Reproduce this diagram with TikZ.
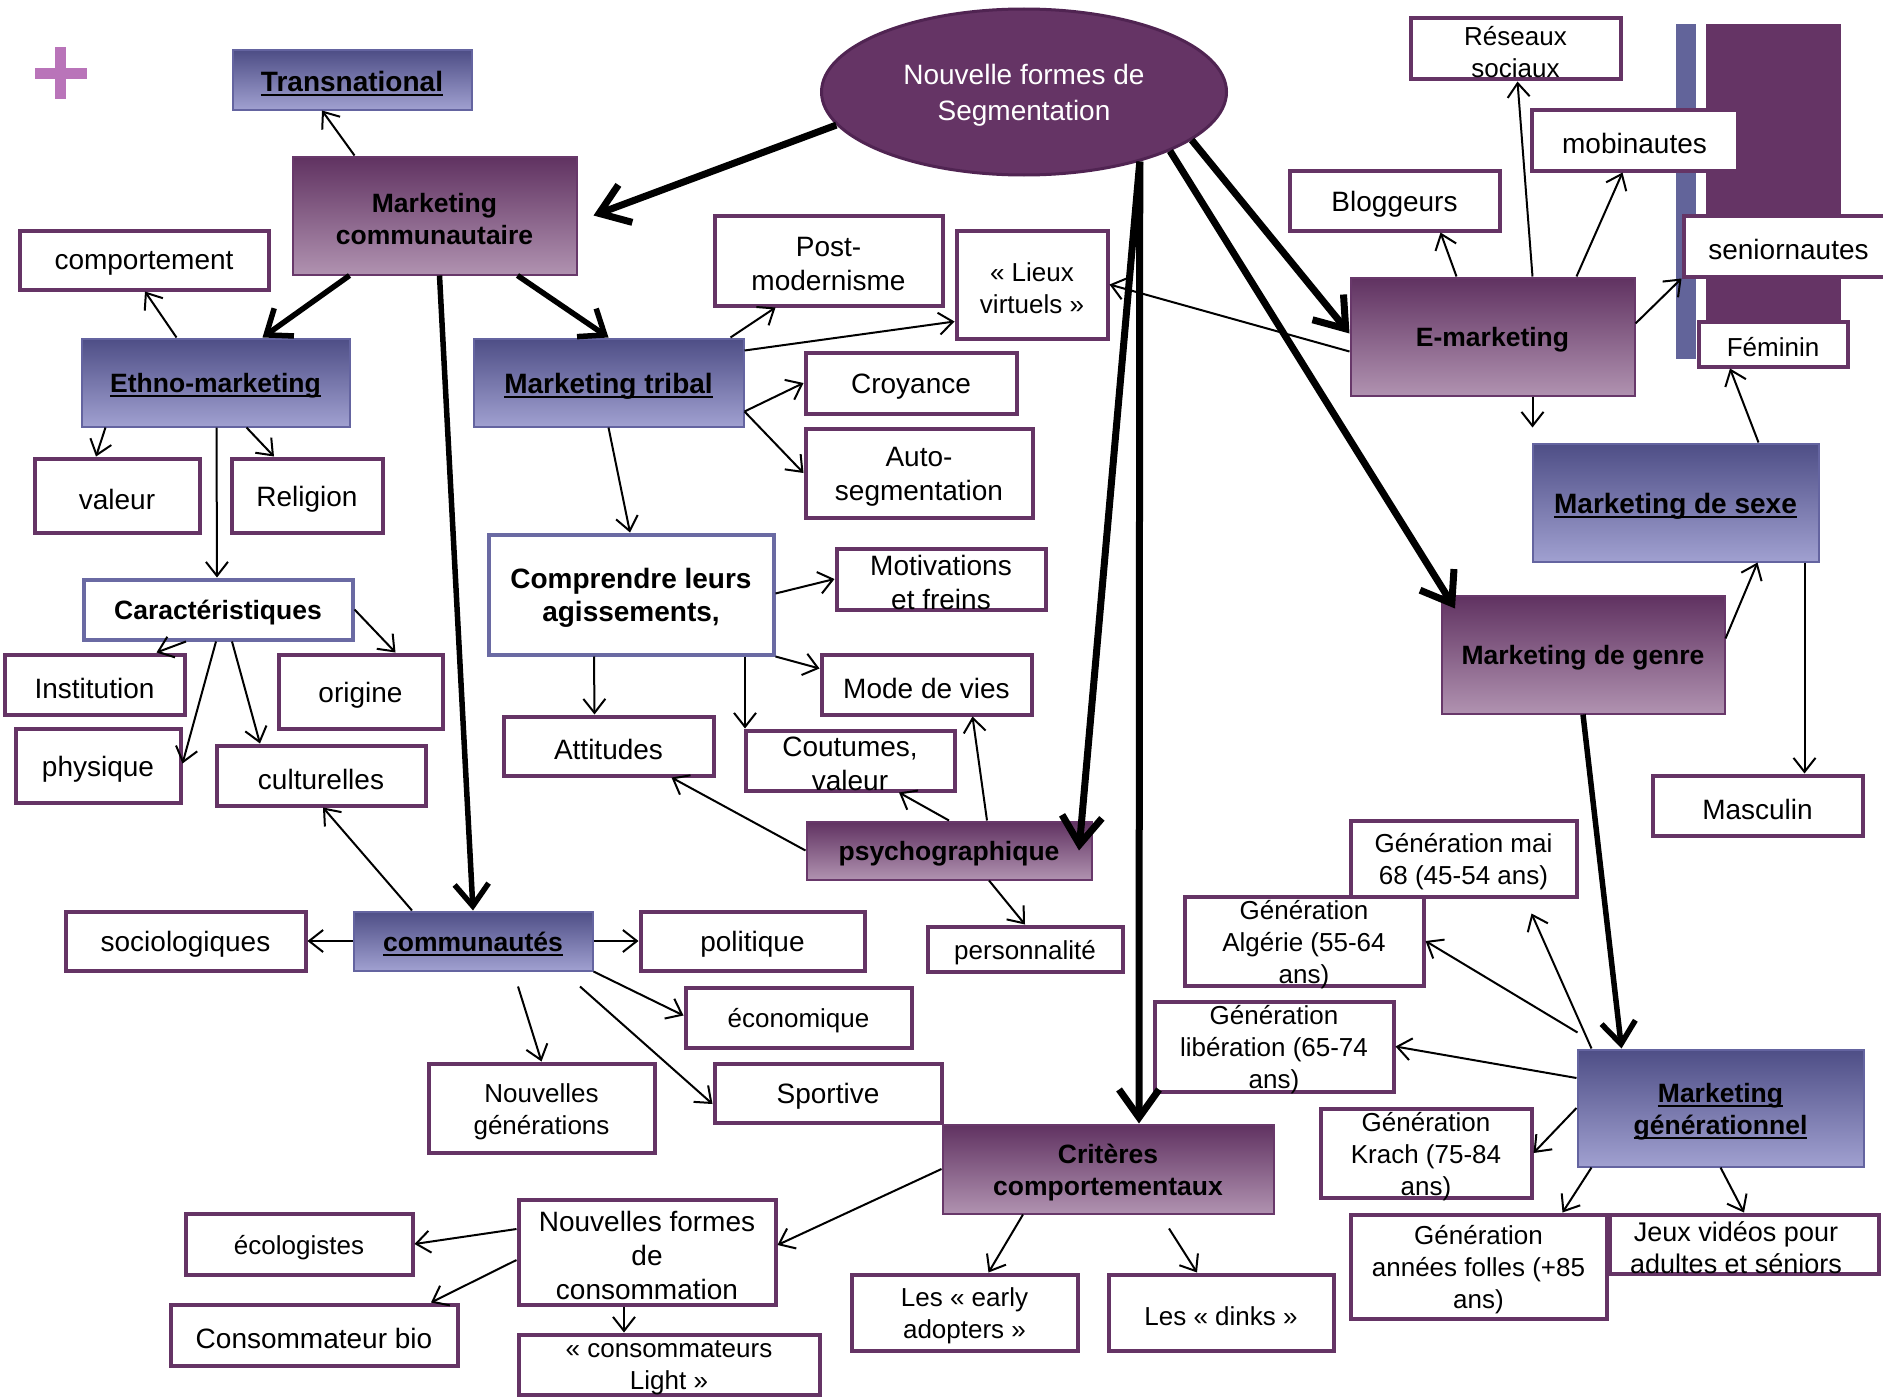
\documentclass[tikz,border=0pt]{standalone}
\usepackage{fontspec}
\setmainfont{Liberation Sans}
\usetikzlibrary{arrows.meta,shapes.geometric}

\definecolor{plum}{RGB}{101,52,101}
\definecolor{plumdark}{RGB}{80,36,82}
\definecolor{ptop}{RGB}{96,50,97}
\definecolor{pbot}{RGB}{176,146,176}
\definecolor{pedge}{RGB}{104,56,106}
\definecolor{btop}{RGB}{78,78,134}
\definecolor{bbot}{RGB}{160,160,208}
\definecolor{bedge}{RGB}{100,100,160}
\definecolor{vedge}{RGB}{106,106,163}
\definecolor{barblue}{RGB}{98,100,154}
\definecolor{pluscol}{RGB}{185,116,185}

\newsavebox\ulbox
\newcommand\ul[1]{\sbox\ulbox{#1}\rlap{\rule[-0.17em]{\wd\ulbox}{0.08em}}\usebox\ulbox}

% box: name, x1, y1, x2, y2 (outer edges), box style, text style, text
\newcommand\bx[8]{%
  \node[#6, inner sep=0pt, minimum width={#4-#2-3}, minimum height={#5-#3-3},
        label={[inner sep=0pt, yshift=-3.5pt, #7]center:{#8}}] (#1) at ({(#2+#4)/2},{(#3+#5)/2}) {};}

\tikzset{
  wbox/.style={rectangle, draw=plum, line width=4pt, fill=white},
  vbox/.style={rectangle, draw=vedge, line width=4pt, fill=white},
  pbox/.style={rectangle, draw=pedge, line width=2pt, top color=ptop, bottom color=pbot},
  bbox/.style={rectangle, draw=bedge, line width=2pt, top color=btop, bottom color=bbot},
  tbig/.style={font=\fontsize{28}{34}\selectfont, align=center},
  tsmall/.style={font=\fontsize{26}{32}\selectfont, align=center},
  tbold/.style={font=\fontsize{26.5}{32}\selectfont\bfseries, align=center},
  tbolder/.style={font=\fontsize{28}{33}\selectfont\bfseries, align=center},
  lnk/.style={line width=2pt, -{Straight Barb[length=14pt,width=22pt]}},
  lnkbold/.style={line width=5.5pt, -{Straight Barb[length=22pt,width=34pt]}},
  heavy/.style={line width=7pt, -{Straight Barb[length=28pt,width=40pt]}},
}

\begin{document}
\begin{tikzpicture}[x=1pt,y=-1pt]
\useasboundingbox (0,0) rectangle (1883,1397);
\fill[white] (0,0) rectangle (1883,1397);

% plus mark and side bars
\fill[pluscol] (55,47) rectangle (66,99);
\fill[pluscol] (35,68) rectangle (87,79);
\fill[barblue] (1676,24) rectangle (1696,359);
\fill[plum] (1706,24) rectangle (1841,322);

% central ellipse
\node[ellipse, draw=plumdark, line width=3pt, fill=plum, minimum width=405, minimum height=166,
      inner sep=0pt,
      label={[inner sep=0pt, yshift=-3.5pt, text=white, font=\fontsize{28}{36}\selectfont, align=center]center:{Nouvelle formes de\\Segmentation}}]
      (seg) at (1024,92) {};

% boxes
\bx{trans}{231}{49}{473}{111}{bbox}{tbolder}{\ul{Transnational}}
\bx{mc}{291}{155}{578}{276}{pbox}{tbold}{Marketing\\communautaire}
\bx{comp}{18}{229}{270}{291}{wbox}{tbig}{comportement}
\bx{ethno}{80}{337}{351}{428}{bbox}{tbold}{\ul{Ethno-marketing}}
\bx{tribal}{472}{337}{745}{428}{bbox}{tbolder}{\ul{Marketing tribal}}
\bx{pm}{713}{214}{944}{307}{wbox}{tbig}{Post-\\modernisme}
\bx{lieux}{955}{229}{1109}{340}{wbox}{tsmall}{« Lieux\\virtuels »}
\bx{croy}{804}{351}{1018}{415}{wbox}{tbig}{Croyance}
\bx{auto}{804}{427}{1034}{519}{wbox}{tbig}{Auto-\\segmentation}
\bx{reseaux}{1409}{17}{1622}{81}{wbox}{tsmall}{Réseaux\\sociaux}
\bx{mobi}{1530}{108}{1739}{172}{wbox}{tbig}{mobinautes}
\bx{blog}{1288}{169}{1501}{232}{wbox}{tbig}{Bloggeurs}
\bx{senior}{1682}{214}{1895}{278}{wbox}{tbig}{seniornautes}
\bx{fem}{1697}{320}{1849}{368}{wbox}{tsmall}{Féminin}
\bx{emk}{1349}{276}{1636}{397}{pbox}{tbold}{E-marketing}
\bx{sexe}{1531}{442}{1820}{563}{bbox}{tbolder}{\ul{Marketing de sexe}}
\bx{mgenre}{1440}{594}{1726}{715}{pbox}{tbold}{Marketing de genre}
\bx{masc}{1651}{774}{1864}{837}{wbox}{tbig}{Masculin}
\bx{mai}{1349}{819}{1578}{898}{wbox}{tsmall}{Génération mai\\68 (45-54 ans)}
\bx{alg}{1183}{895}{1425}{987}{wbox}{tsmall}{Génération\\Algérie (55-64\\ans)}
\bx{lib}{1153}{1000}{1395}{1093}{wbox}{tsmall}{Génération\\libération (65-74\\ans)}
\bx{mgen}{1576}{1048}{1865}{1168}{bbox}{tbold}{\ul{Marketing}\\\ul{générationnel}}
\bx{krach}{1319}{1107}{1533}{1199}{wbox}{tsmall}{Génération\\Krach (75-84\\ans)}
\bx{folles}{1349}{1213}{1608}{1320}{wbox}{tsmall}{Génération\\années folles (+85\\ans)}
\bx{jeux}{1608}{1213}{1880}{1275}{wbox}{tsmall, font=\fontsize{27}{32}\selectfont, xshift=-8pt}{Jeux vidéos pour\\adultes et séniors}
\bx{valeur}{33}{457}{201}{534}{wbox}{tbig}{valeur}
\bx{relig}{230}{457}{384}{534}{wbox}{tbig}{Religion}
\bx{carac}{82}{578}{354}{641}{vbox}{tbold}{Caractéristiques}
\bx{inst}{3}{653}{186}{716}{wbox}{tbig}{Institution}
\bx{orig}{277}{653}{444}{730}{wbox}{tbig}{origine}
\bx{phys}{14}{727}{182}{804}{wbox}{tbig}{physique}
\bx{cult}{215}{744}{427}{807}{wbox}{tbig}{culturelles}
\bx{compr}{487}{533}{775}{656}{vbox}{tbolder}{Comprendre leurs\\agissements,}
\bx{motiv}{835}{547}{1047}{611}{wbox}{tbig}{Motivations\\et freins}
\bx{mode}{820}{653}{1033}{716}{wbox}{tbig}{Mode de vies}
\bx{attit}{502}{715}{715}{777}{wbox}{tbig}{Attitudes}
\bx{cout}{744}{729}{956}{792}{wbox}{tbig}{Coutumes,\\valeur}
\bx{psy}{805}{820}{1093}{881}{pbox}{tbold}{psychographique}
\bx{perso}{926}{925}{1124}{973}{wbox}{tsmall}{personnalité}
\bx{socio}{64}{910}{307}{972}{wbox}{tbig}{sociologiques}
\bx{comm}{352}{910}{594}{972}{bbox}{tbold}{\ul{communautés}}
\bx{polit}{639}{910}{866}{972}{wbox}{tbig}{politique}
\bx{econ}{684}{986}{913}{1049}{wbox}{tsmall}{économique}
\bx{sport}{713}{1062}{943}{1124}{wbox}{tbig}{Sportive}
\bx{nouvgen}{427}{1062}{656}{1154}{wbox}{tsmall}{Nouvelles\\générations}
\bx{crit}{941}{1123}{1275}{1215}{pbox}{tbold}{Critères\\comportementaux}
\bx{nfc}{517}{1198}{777}{1306}{wbox}{tbig}{Nouvelles formes\\de\\consommation}
\bx{eco}{184}{1212}{414}{1276}{wbox}{tsmall}{écologistes}
\bx{bio}{169}{1303}{459}{1367}{wbox}{tbig}{Consommateur bio}
\bx{light}{517}{1333}{821}{1396}{wbox}{tsmall}{« consommateurs\\Light »}
\bx{early}{850}{1273}{1079}{1352}{wbox}{tsmall}{Les « early\\adopters »}
\bx{dinks}{1107}{1273}{1335}{1352}{wbox}{tsmall}{Les « dinks »}

% heavy links out of the ellipse
\draw[heavy] (seg.190) -- ([xshift=16pt]mc.east);
\draw[heavy] (seg.-31) -- ([shift={(130,0)}]psy.center);
\draw[heavy] (seg.-31) -- ([xshift=31pt]crit.north);
\draw[heavy] (seg.-16) -- ([yshift=3pt]emk.west);
\draw[heavy] (seg.-22) -- ([shift={(-128,-46)}]mgenre.center);

% bold links
\draw[lnkbold] ([xshift=-85pt]mc.south) -- ([xshift=47pt]ethno.north);
\draw[lnkbold] ([xshift=83pt]mc.south) -- (tribal.north);
\draw[lnkbold] ([xshift=5pt]mc.south) -- (comm.north);
\draw[lnkbold] (mgenre.south) -- ([xshift=-99pt]mgen.north);

% thin links
\draw[lnk] ([xshift=-80pt]mc.north) -- ([xshift=-30pt]trans.south);
\draw[lnk] ([xshift=-39pt]ethno.north) -- ([xshift=1pt]comp.south);
\draw[lnk] ([xshift=-110pt]ethno.south) -- ([xshift=-21pt]valeur.north);
\draw[lnk] ([xshift=31pt]ethno.south) -- ([xshift=-33pt]relig.north);
\draw[lnk] ([xshift=1pt]ethno.south) -- ([xshift=-1pt]carac.north);
\draw[lnk] (tribal.south) -- ([xshift=-1pt]compr.north);
\draw[lnk] ([xshift=122pt]tribal.north) -- ([xshift=-53pt]pm.south);
\draw[lnk] ([yshift=32pt]tribal.east) -- ([yshift=-37pt]lieux.west);
\draw[lnk] ([yshift=-29pt]tribal.east) -- (croy.west);
\draw[lnk] ([yshift=-29pt]tribal.east) -- (auto.west);
\draw[lnk] ([yshift=-15pt]emk.west) -- (lieux.east);
\draw[lnk] ([xshift=-36pt]emk.north) -- ([xshift=46pt]blog.south);
\draw[lnk] ([xshift=40pt]emk.north) -- ([xshift=2pt]reseaux.south);
\draw[lnk] ([xshift=84pt]emk.north) -- ([xshift=-12pt]mobi.south);
\draw[lnk] ([yshift=13pt]emk.east) -- (senior.south west);
\draw[lnk] ([xshift=40pt]emk.south) -- ([shift={(-143,-15)}]sexe.north);
\draw[lnk] ([xshift=83pt]sexe.north) -- ([xshift=-43pt]fem.south);
\draw[lnk] ([xshift=129pt]sexe.south) -- ([xshift=47pt]masc.north);
\draw[lnk] ([yshift=16pt]mgenre.east) -- ([xshift=82pt]sexe.south);
\draw[lnk] ([xshift=-32pt]carac.south) -- ([xshift=62pt]inst.north);
\draw[lnk] (carac.east) -- ([xshift=35pt]orig.north);
\draw[lnk] ([xshift=-2pt]carac.south) -- ([yshift=2pt]phys.east);
\draw[lnk] ([xshift=14pt]carac.south) -- ([xshift=-61pt]cult.north);
\draw[lnk] ([xshift=-61pt]comm.north) -- ([xshift=2pt]cult.south);
\draw[lnk] (comm.west) -- (socio.east);
\draw[lnk] (comm.east) -- (polit.west);
\draw[lnk] (comm.south east) -- ([yshift=2pt]econ.west);
\draw[lnk] ([shift={(107,15)}]comm.south) -- ([yshift=-11pt]sport.west);
\draw[lnk] ([shift={(45,15)}]comm.south) -- (nouvgen.north);
\draw[lnk] ([yshift=1pt]compr.east) -- (motiv.west);
\draw[lnk] (compr.south east) -- ([yshift=16pt]mode.west);
\draw[lnk] ([xshift=114pt]compr.south) -- ([xshift=-105pt]cout.north);
\draw[lnk] ([xshift=-37pt]compr.south) -- ([xshift=-14pt]attit.north);
\draw[lnk] (psy.west) -- ([xshift=63pt]attit.south);
\draw[lnk] (psy.north) -- ([xshift=49pt]cout.south);
\draw[lnk] ([xshift=38pt]psy.north) -- ([xshift=46pt]mode.south);
\draw[lnk] ([xshift=40pt]psy.south) -- (perso.north);
\draw[lnk] ([xshift=-129pt]mgen.north) -- ([shift={(68,15)}]mai.south);
\draw[lnk] ([shift={(1,-16)}]mgen.north west) -- (alg.east);
\draw[lnk] ([yshift=30pt]mgen.west) -- (lib.east);
\draw[lnk] (mgen.west) -- (krach.east);
\draw[lnk] ([xshift=-129pt]mgen.south) -- ([xshift=84pt]folles.north);
\draw[lnk] (mgen.south) -- (jeux.north);
\draw[lnk] (crit.west) -- ([yshift=7pt]nfc.east);
\draw[lnk] ([xshift=-85pt]crit.south) -- ([xshift=24pt]early.north);
\draw[lnk] ([shift={(61,14)}]crit.south) -- ([xshift=-24pt]dinks.north);
\draw[lnk] ([yshift=23pt]nfc.west) -- (eco.east);
\draw[lnk] ([yshift=-8pt]nfc.west) -- ([xshift=117pt]bio.north);
\draw[lnk] ([xshift=-23pt]nfc.south) -- ([xshift=-45pt]light.north);
\end{tikzpicture}
\end{document}
